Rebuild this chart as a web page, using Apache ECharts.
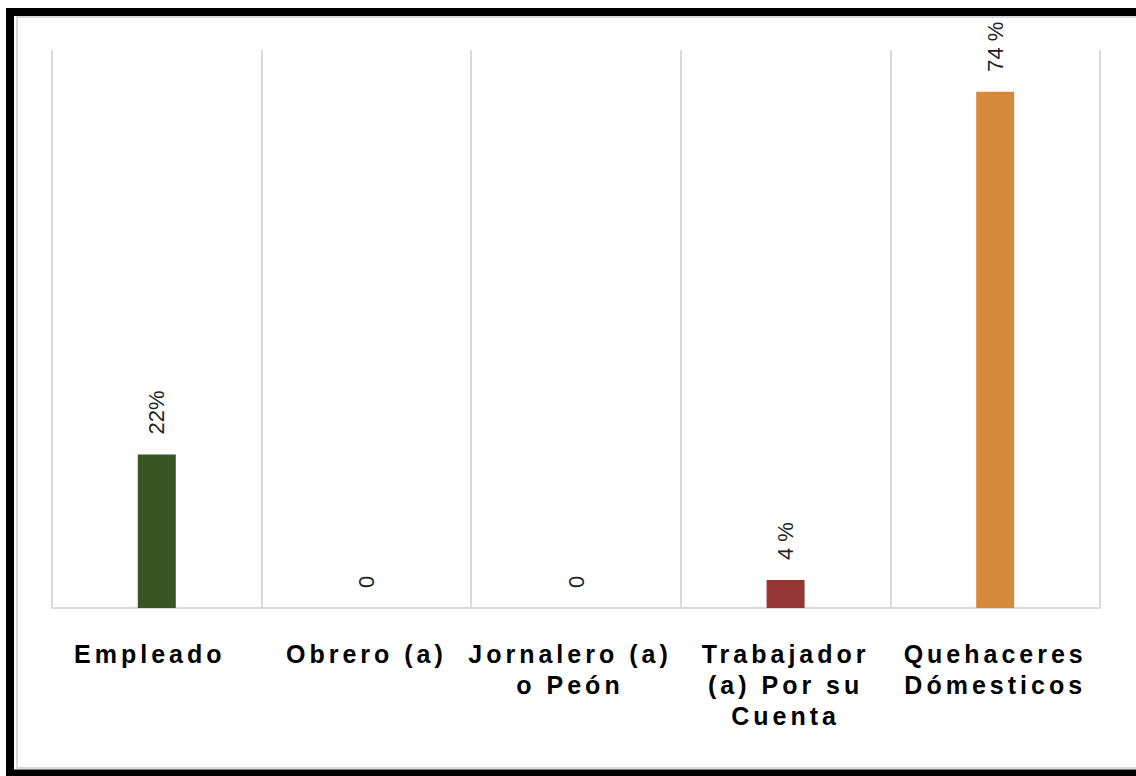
<!DOCTYPE html>
<html>
<head>
<meta charset="utf-8">
<script src="https://cdn.jsdelivr.net/npm/echarts@6/dist/echarts.min.js"></script>
<style>
  html, body { margin: 0; padding: 0; background: #ffffff; }
  #chart { width: 1136px; height: 776px; }
  #chart text[style*="bold"] { letter-spacing: 4px; }
</style>
</head>
<body>
<div id="chart"></div>
<script>
const categories = ['Empleado', 'Obrero (a)', 'Jornalero (a)\no Peón', 'Trabajador\n(a) Por su\nCuenta', 'Quehaceres\nDómesticos'];
const values = [22, 0, 0, 4, 74];
const valueLabels = ['22%', '0', '0', '4 %', '74 %'];
const barColors = ['#375623', '#375623', '#375623', '#943634', '#D5893A'];

// label nudges (layout only): pixels to shift each category label to the left
const labelShiftLeft = [7, 0, 6, 0, 0];

const chart = echarts.init(document.getElementById('chart'), null, { renderer: 'svg' });
chart.setOption({
  animation: false,
  backgroundColor: '#ffffff',
  graphic: [
    { type: 'rect', silent: true, z: 100,
      shape: { x: 10, y: 12, width: 1140, height: 761.5 },
      style: { fill: 'none', stroke: '#000000', lineWidth: 8 } },
    { type: 'rect', silent: true, z: 100,
      shape: { x: 17, y: 17, width: 1140, height: 751 },
      style: { fill: 'none', stroke: '#d9d9d9', lineWidth: 2 } }
  ],
  grid: { left: 52, right: 36, top: 50, bottom: 168, containLabel: false },
  xAxis: {
    type: 'category',
    data: categories.map((c, i) => ({
      value: c,
      textStyle: { padding: [0, labelShiftLeft[i] * 2, 0, 0] }
    })),
    boundaryGap: true,
    axisLine: { show: true, lineStyle: { color: '#d9d9d9', width: 2 } },
    axisTick: { show: false },
    splitLine: { show: true, lineStyle: { color: '#d9d9d9', width: 2 } },
    axisLabel: {
      interval: 0,
      margin: 30,
      color: '#000000',
      fontFamily: 'Liberation Sans, Arial, sans-serif',
      fontWeight: 'bold',
      fontSize: 25,
      lineHeight: 31
    }
  },
  yAxis: {
    type: 'value',
    min: 0,
    max: 80,
    show: false,
    splitLine: { show: false }
  },
  series: [{
    type: 'bar',
    data: values.map((v, i) => ({ value: v, itemStyle: { color: barColors[i] } })),
    barWidth: 38,
    label: {
      show: true,
      position: 'top',
      distance: 20,
      rotate: 90,
      align: 'left',
      verticalAlign: 'middle',
      color: '#222222',
      fontFamily: 'Liberation Sans, Arial, sans-serif',
      fontSize: 22,
      formatter: p => valueLabels[p.dataIndex]
    }
  }]
});
</script>
</body>
</html>
